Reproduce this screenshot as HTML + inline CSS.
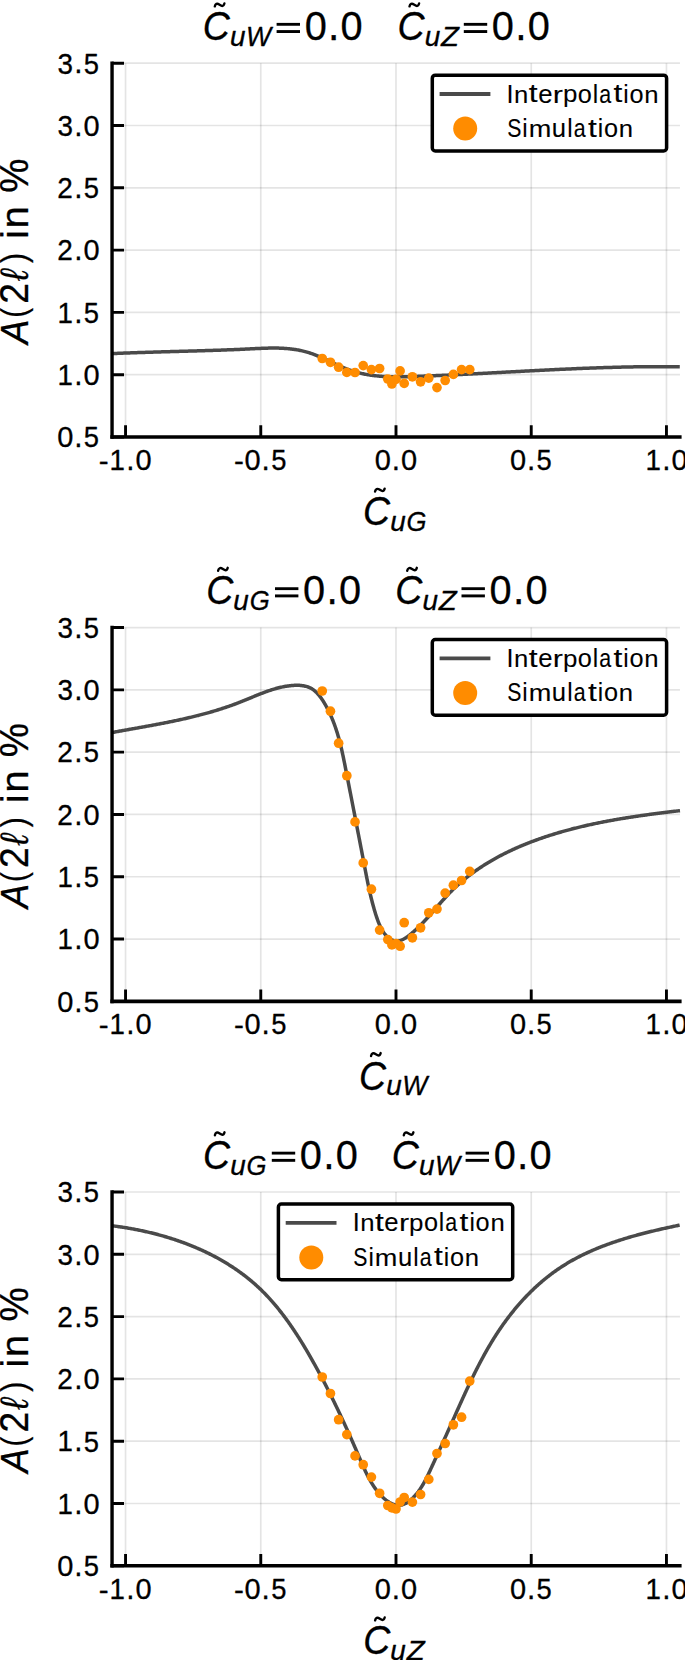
<!DOCTYPE html><html><head><meta charset="utf-8"><style>html,body{margin:0;padding:0;background:#fff;}svg{display:block;}text{font-family:"Liberation Sans", sans-serif;font-kerning:none;stroke:#000;stroke-width:0.3px;stroke-linejoin:round;}</style></head><body>
<svg width="685" height="1660" viewBox="0 0 685 1660">
<rect width="685" height="1660" fill="#fff"/>
<path d="M125.55,63.20V437.00M260.77,63.20V437.00M396.00,63.20V437.00M531.23,63.20V437.00M666.45,63.20V437.00" stroke="#000" stroke-opacity="0.105" stroke-width="1.7" fill="none"/>
<path d="M112.03,437.00H679.97M112.03,374.70H679.97M112.03,312.40H679.97M112.03,250.10H679.97M112.03,187.80H679.97M112.03,125.50H679.97M112.03,63.20H679.97" stroke="#000" stroke-opacity="0.105" stroke-width="1.7" fill="none"/>
<path d="M111.78,353.62 L112.79,353.57 L113.79,353.53 L114.79,353.48 L115.80,353.44 L116.80,353.40 L117.80,353.36 L118.81,353.31 L119.81,353.27 L120.81,353.23 L121.81,353.19 L122.81,353.15 L123.81,353.11 L124.81,353.08 L125.82,353.04 L126.82,353.00 L127.82,352.96 L128.82,352.92 L129.82,352.89 L130.82,352.85 L131.82,352.81 L132.81,352.78 L133.81,352.74 L134.81,352.71 L135.81,352.67 L136.81,352.64 L137.81,352.61 L138.81,352.57 L139.81,352.54 L140.80,352.51 L141.80,352.47 L142.80,352.44 L143.80,352.41 L144.79,352.38 L145.79,352.35 L146.79,352.31 L147.79,352.28 L148.78,352.25 L149.78,352.22 L150.78,352.19 L151.77,352.16 L152.77,352.13 L153.76,352.10 L154.76,352.07 L155.76,352.04 L156.75,352.01 L157.75,351.98 L158.74,351.96 L159.74,351.93 L160.74,351.90 L161.73,351.87 L162.73,351.84 L163.72,351.81 L164.72,351.78 L165.71,351.76 L166.71,351.73 L167.70,351.70 L168.70,351.67 L169.69,351.64 L170.69,351.62 L171.68,351.59 L172.68,351.56 L173.67,351.53 L174.67,351.51 L175.66,351.48 L176.66,351.45 L177.65,351.42 L178.65,351.40 L179.64,351.37 L180.64,351.34 L181.63,351.31 L182.63,351.29 L183.62,351.26 L184.62,351.23 L185.61,351.20 L186.61,351.18 L187.60,351.15 L188.60,351.12 L189.59,351.09 L190.59,351.06 L191.58,351.03 L192.58,351.01 L193.57,350.98 L194.57,350.95 L195.56,350.92 L196.56,350.89 L197.55,350.86 L198.55,350.83 L199.54,350.80 L200.54,350.77 L201.54,350.74 L202.53,350.71 L203.53,350.68 L204.52,350.65 L205.52,350.62 L206.52,350.59 L207.51,350.56 L208.51,350.53 L209.50,350.50 L210.50,350.46 L211.50,350.43 L212.49,350.40 L213.49,350.37 L214.49,350.33 L215.49,350.30 L216.48,350.27 L217.48,350.23 L218.48,350.20 L219.48,350.16 L220.47,350.13 L221.47,350.09 L222.47,350.06 L223.47,350.02 L224.47,349.98 L225.47,349.95 L226.46,349.91 L227.46,349.87 L228.46,349.83 L229.46,349.79 L230.46,349.75 L231.46,349.72 L232.46,349.68 L233.46,349.63 L234.46,349.59 L235.46,349.55 L236.46,349.51 L237.46,349.47 L238.47,349.43 L239.47,349.38 L240.47,349.34 L241.47,349.29 L242.47,349.25 L243.48,349.20 L244.48,349.16 L245.48,349.11 L246.48,349.06 L247.49,349.02 L248.49,348.97 L249.50,348.92 L250.50,348.87 L251.50,348.82 L252.51,348.77 L253.51,348.72 L254.52,348.67 L255.52,348.62 L256.53,348.57 L257.53,348.52 L258.54,348.48 L259.55,348.43 L260.55,348.39 L261.56,348.34 L262.56,348.30 L263.57,348.27 L264.57,348.23 L265.57,348.20 L266.58,348.17 L267.58,348.14 L268.58,348.12 L269.59,348.10 L270.59,348.08 L271.59,348.07 L272.59,348.06 L273.59,348.06 L274.59,348.06 L275.59,348.07 L276.59,348.08 L277.59,348.10 L278.59,348.12 L279.58,348.15 L280.58,348.18 L281.57,348.23 L282.57,348.27 L283.56,348.33 L284.55,348.39 L285.55,348.46 L286.54,348.53 L287.52,348.62 L288.51,348.71 L289.50,348.81 L290.48,348.91 L291.47,349.03 L292.45,349.15 L293.43,349.28 L294.41,349.42 L295.39,349.57 L296.37,349.73 L297.34,349.89 L298.32,350.07 L299.29,350.25 L300.26,350.45 L301.23,350.65 L302.19,350.87 L303.16,351.10 L304.12,351.33 L305.08,351.58 L306.04,351.83 L306.99,352.10 L307.95,352.38 L308.90,352.67 L309.85,352.97 L310.80,353.29 L311.74,353.61 L312.69,353.95 L313.63,354.29 L314.57,354.65 L315.51,355.01 L316.44,355.38 L317.38,355.76 L318.31,356.15 L319.24,356.54 L320.17,356.94 L321.10,357.35 L322.03,357.76 L322.96,358.18 L323.88,358.60 L324.81,359.03 L325.73,359.46 L326.66,359.89 L327.58,360.32 L328.50,360.76 L329.42,361.19 L330.35,361.63 L331.27,362.07 L332.19,362.51 L333.11,362.94 L334.03,363.38 L334.96,363.81 L335.88,364.25 L336.80,364.67 L337.72,365.10 L338.65,365.52 L339.57,365.94 L340.50,366.35 L341.42,366.76 L342.35,367.16 L343.28,367.56 L344.21,367.94 L345.14,368.32 L346.07,368.70 L347.00,369.06 L347.94,369.42 L348.87,369.76 L349.81,370.10 L350.75,370.42 L351.69,370.74 L352.63,371.05 L353.58,371.34 L354.52,371.63 L355.47,371.90 L356.42,372.17 L357.37,372.43 L358.32,372.68 L359.28,372.92 L360.23,373.15 L361.19,373.38 L362.15,373.59 L363.11,373.80 L364.07,373.99 L365.03,374.18 L365.99,374.37 L366.96,374.54 L367.92,374.71 L368.89,374.87 L369.86,375.02 L370.83,375.16 L371.80,375.30 L372.77,375.43 L373.75,375.55 L374.72,375.67 L375.70,375.78 L376.67,375.88 L377.65,375.98 L378.63,376.07 L379.61,376.16 L380.59,376.24 L381.57,376.31 L382.55,376.38 L383.53,376.45 L384.52,376.50 L385.50,376.56 L386.49,376.60 L387.47,376.65 L388.46,376.69 L389.45,376.72 L390.44,376.75 L391.43,376.77 L392.42,376.80 L393.41,376.81 L394.40,376.83 L395.39,376.84 L396.38,376.84 L397.38,376.84 L398.37,376.84 L399.36,376.84 L400.36,376.83 L401.35,376.82 L402.35,376.81 L403.34,376.79 L404.34,376.78 L405.33,376.76 L406.33,376.73 L407.33,376.71 L408.32,376.68 L409.32,376.66 L410.32,376.63 L411.32,376.60 L412.31,376.56 L413.31,376.53 L414.31,376.50 L415.31,376.46 L416.31,376.42 L417.31,376.39 L418.30,376.35 L419.30,376.31 L420.30,376.28 L421.30,376.24 L422.30,376.20 L423.30,376.16 L424.29,376.12 L425.29,376.08 L426.29,376.04 L427.29,376.00 L428.29,375.96 L429.29,375.92 L430.28,375.88 L431.28,375.84 L432.28,375.79 L433.28,375.75 L434.28,375.71 L435.27,375.67 L436.27,375.62 L437.27,375.58 L438.27,375.54 L439.27,375.49 L440.27,375.45 L441.26,375.40 L442.26,375.36 L443.26,375.31 L444.26,375.27 L445.26,375.22 L446.26,375.18 L447.25,375.13 L448.25,375.08 L449.25,375.04 L450.25,374.99 L451.25,374.94 L452.24,374.90 L453.24,374.85 L454.24,374.80 L455.24,374.75 L456.24,374.70 L457.24,374.66 L458.23,374.61 L459.23,374.56 L460.23,374.51 L461.23,374.46 L462.23,374.41 L463.23,374.36 L464.22,374.31 L465.22,374.26 L466.22,374.21 L467.22,374.16 L468.22,374.11 L469.21,374.06 L470.21,374.01 L471.21,373.96 L472.21,373.91 L473.21,373.86 L474.21,373.81 L475.20,373.75 L476.20,373.70 L477.20,373.65 L478.20,373.60 L479.20,373.55 L480.19,373.50 L481.19,373.44 L482.19,373.39 L483.19,373.34 L484.19,373.29 L485.18,373.23 L486.18,373.18 L487.18,373.13 L488.18,373.08 L489.18,373.02 L490.18,372.97 L491.17,372.92 L492.17,372.87 L493.17,372.81 L494.17,372.76 L495.17,372.71 L496.16,372.65 L497.16,372.60 L498.16,372.55 L499.16,372.49 L500.16,372.44 L501.15,372.39 L502.15,372.33 L503.15,372.28 L504.15,372.23 L505.15,372.17 L506.14,372.12 L507.14,372.07 L508.14,372.01 L509.14,371.96 L510.14,371.91 L511.14,371.86 L512.13,371.80 L513.13,371.75 L514.13,371.70 L515.13,371.64 L516.13,371.59 L517.12,371.54 L518.12,371.48 L519.12,371.43 L520.12,371.38 L521.12,371.33 L522.11,371.27 L523.11,371.22 L524.11,371.17 L525.11,371.12 L526.11,371.06 L527.10,371.01 L528.10,370.96 L529.10,370.91 L530.10,370.86 L531.10,370.80 L532.09,370.75 L533.09,370.70 L534.09,370.65 L535.09,370.60 L536.09,370.55 L537.08,370.50 L538.08,370.45 L539.08,370.39 L540.08,370.34 L541.08,370.29 L542.07,370.24 L543.07,370.19 L544.07,370.14 L545.07,370.09 L546.07,370.04 L547.07,370.00 L548.06,369.95 L549.06,369.90 L550.06,369.85 L551.06,369.80 L552.06,369.75 L553.05,369.70 L554.05,369.66 L555.05,369.61 L556.05,369.56 L557.05,369.51 L558.04,369.47 L559.04,369.42 L560.04,369.37 L561.04,369.33 L562.04,369.28 L563.03,369.23 L564.03,369.19 L565.03,369.14 L566.03,369.10 L567.03,369.05 L568.02,369.01 L569.02,368.96 L570.02,368.92 L571.02,368.88 L572.02,368.83 L573.01,368.79 L574.01,368.75 L575.01,368.70 L576.01,368.66 L577.01,368.62 L578.00,368.58 L579.00,368.54 L580.00,368.49 L581.00,368.45 L581.99,368.41 L582.99,368.37 L583.99,368.33 L584.99,368.29 L585.99,368.26 L586.98,368.22 L587.98,368.18 L588.98,368.14 L589.98,368.10 L590.98,368.07 L591.97,368.03 L592.97,367.99 L593.97,367.96 L594.97,367.92 L595.97,367.89 L596.96,367.85 L597.96,367.82 L598.96,367.78 L599.96,367.75 L600.96,367.71 L601.95,367.68 L602.95,367.65 L603.95,367.62 L604.95,367.59 L605.95,367.55 L606.94,367.52 L607.94,367.49 L608.94,367.46 L609.94,367.43 L610.94,367.41 L611.93,367.38 L612.93,367.35 L613.93,367.32 L614.93,367.29 L615.93,367.27 L616.92,367.24 L617.92,367.22 L618.92,367.19 L619.92,367.17 L620.92,367.14 L621.91,367.12 L622.91,367.10 L623.91,367.07 L624.91,367.05 L625.91,367.03 L626.90,367.01 L627.90,366.99 L628.90,366.97 L629.90,366.95 L630.89,366.93 L631.89,366.91 L632.89,366.89 L633.89,366.87 L634.89,366.86 L635.88,366.84 L636.88,366.83 L637.88,366.81 L638.88,366.80 L639.88,366.78 L640.87,366.77 L641.87,366.76 L642.87,366.74 L643.87,366.73 L644.87,366.72 L645.86,366.71 L646.86,366.70 L647.86,366.69 L648.86,366.68 L649.86,366.68 L650.85,366.67 L651.85,366.66 L652.85,366.66 L653.85,366.65 L654.85,366.65 L655.84,366.64 L656.84,366.64 L657.84,366.64 L658.84,366.63 L659.84,366.63 L660.83,366.63 L661.83,366.63 L662.83,366.63 L663.83,366.63 L664.82,366.63 L665.82,366.64 L666.82,366.64 L667.82,366.64 L668.82,366.65 L669.81,366.65 L670.81,366.66 L671.81,366.67 L672.81,366.68 L673.81,366.68 L674.80,366.69 L675.80,366.70 L676.80,366.71 L677.80,366.72 L678.80,366.74 L679.79,366.75" stroke="#4a4a4a" stroke-width="3.5" fill="none" stroke-linejoin="round"/>
<path d="M112.05,61.40V438.80" stroke="#000" stroke-width="3.4" fill="none"/>
<path d="M110.35,437.00H681.6" stroke="#000" stroke-width="3.6" fill="none"/>
<path d="M112,437.00H124M112,374.70H124M112,312.40H124M112,250.10H124M112,187.80H124M112,125.50H124M112,63.20H124M125.55,437.00V425.20M260.77,437.00V425.20M396.00,437.00V425.20M531.23,437.00V425.20M666.45,437.00V425.20" stroke="#000" stroke-width="2.9" fill="none"/>
<text transform="translate(57.25,447.30) scale(0.9868,1)" font-size="29.38">0</text><text transform="translate(74.29,447.20) scale(0.9329,1)" font-size="31.89">.</text><text transform="translate(83.83,447.30) scale(0.9341,1)" font-size="29.29">5</text>
<text transform="translate(57.48,384.90) scale(0.9502,1)" font-size="29.14">1</text><text transform="translate(74.29,384.90) scale(0.9329,1)" font-size="31.89">.</text><text transform="translate(83.48,385.00) scale(0.9868,1)" font-size="29.38">0</text>
<text transform="translate(57.48,322.60) scale(0.9502,1)" font-size="29.14">1</text><text transform="translate(74.29,322.60) scale(0.9329,1)" font-size="31.89">.</text><text transform="translate(83.83,322.70) scale(0.9341,1)" font-size="29.29">5</text>
<text transform="translate(57.17,260.30) scale(0.9559,1)" font-size="29.23">2</text><text transform="translate(74.29,260.30) scale(0.9329,1)" font-size="31.89">.</text><text transform="translate(83.48,260.40) scale(0.9868,1)" font-size="29.38">0</text>
<text transform="translate(57.17,198.00) scale(0.9559,1)" font-size="29.23">2</text><text transform="translate(74.29,198.00) scale(0.9329,1)" font-size="31.89">.</text><text transform="translate(83.83,198.10) scale(0.9341,1)" font-size="29.29">5</text>
<text transform="translate(57.60,135.80) scale(0.9477,1)" font-size="29.38">3</text><text transform="translate(74.29,135.70) scale(0.9329,1)" font-size="31.89">.</text><text transform="translate(83.48,135.80) scale(0.9868,1)" font-size="29.38">0</text>
<text transform="translate(57.60,73.50) scale(0.9477,1)" font-size="29.38">3</text><text transform="translate(74.29,73.40) scale(0.9329,1)" font-size="31.89">.</text><text transform="translate(83.83,73.50) scale(0.9341,1)" font-size="29.29">5</text>
<text transform="translate(98.75,469.75) scale(1.0517,1)" font-size="28.19">-</text><text transform="translate(109.56,469.80) scale(0.9502,1)" font-size="29.14">1</text><text transform="translate(126.36,469.80) scale(0.9329,1)" font-size="31.89">.</text><text transform="translate(135.56,469.90) scale(0.9868,1)" font-size="29.38">0</text>
<text transform="translate(233.97,469.75) scale(1.0517,1)" font-size="28.19">-</text><text transform="translate(244.55,469.90) scale(0.9868,1)" font-size="29.38">0</text><text transform="translate(261.59,469.80) scale(0.9329,1)" font-size="31.89">.</text><text transform="translate(271.13,469.90) scale(0.9341,1)" font-size="29.29">5</text>
<text transform="translate(374.81,469.90) scale(0.9868,1)" font-size="29.38">0</text><text transform="translate(391.85,469.80) scale(0.9329,1)" font-size="31.89">.</text><text transform="translate(401.05,469.90) scale(0.9868,1)" font-size="29.38">0</text>
<text transform="translate(510.04,469.90) scale(0.9868,1)" font-size="29.38">0</text><text transform="translate(527.08,469.80) scale(0.9329,1)" font-size="31.89">.</text><text transform="translate(536.62,469.90) scale(0.9341,1)" font-size="29.29">5</text>
<text transform="translate(645.50,469.80) scale(0.9502,1)" font-size="29.14">1</text><text transform="translate(662.30,469.80) scale(0.9329,1)" font-size="31.89">.</text><text transform="translate(671.50,469.90) scale(0.9868,1)" font-size="29.38">0</text>
<circle cx="322.24" cy="358.50" r="4.85" fill="#ff8c00"/>
<circle cx="330.44" cy="362.30" r="4.85" fill="#ff8c00"/>
<circle cx="338.63" cy="367.20" r="4.85" fill="#ff8c00"/>
<circle cx="346.83" cy="372.40" r="4.85" fill="#ff8c00"/>
<circle cx="355.02" cy="372.50" r="4.85" fill="#ff8c00"/>
<circle cx="363.22" cy="365.60" r="4.85" fill="#ff8c00"/>
<circle cx="371.41" cy="369.60" r="4.85" fill="#ff8c00"/>
<circle cx="379.61" cy="368.50" r="4.85" fill="#ff8c00"/>
<circle cx="387.80" cy="379.00" r="4.85" fill="#ff8c00"/>
<circle cx="391.90" cy="384.00" r="4.85" fill="#ff8c00"/>
<circle cx="396.00" cy="379.30" r="4.85" fill="#ff8c00"/>
<circle cx="400.10" cy="370.90" r="4.85" fill="#ff8c00"/>
<circle cx="404.20" cy="383.40" r="4.85" fill="#ff8c00"/>
<circle cx="412.39" cy="376.80" r="4.85" fill="#ff8c00"/>
<circle cx="420.59" cy="381.80" r="4.85" fill="#ff8c00"/>
<circle cx="428.78" cy="378.10" r="4.85" fill="#ff8c00"/>
<circle cx="436.98" cy="387.60" r="4.85" fill="#ff8c00"/>
<circle cx="445.17" cy="380.50" r="4.85" fill="#ff8c00"/>
<circle cx="453.37" cy="374.40" r="4.85" fill="#ff8c00"/>
<circle cx="461.56" cy="369.60" r="4.85" fill="#ff8c00"/>
<circle cx="469.76" cy="369.60" r="4.85" fill="#ff8c00"/>
<rect x="432.30" y="75.20" width="234.3" height="75.7" rx="3" ry="3" fill="#fff" stroke="#000" stroke-width="3.5"/>
<path d="M439.60,94.00H490.40" stroke="#4a4a4a" stroke-width="3.8"/>
<circle cx="465.20" cy="128.60" r="12" fill="#ff8c00"/>
<text transform="translate(506.61,102.50) scale(0.9981,1)" font-size="25.22" style="stroke-width:0.1px">I</text><text transform="translate(514.08,102.50) scale(1.0359,1)" font-size="24.77" style="stroke-width:0.1px">n</text><text transform="translate(528.86,102.30) scale(1.2454,1)" font-size="25.54" style="stroke-width:0.1px">t</text><text transform="translate(538.26,102.59) scale(1.0305,1)" font-size="24.95" style="stroke-width:0.1px">e</text><text transform="translate(552.81,102.50) scale(1.2310,1)" font-size="24.77" style="stroke-width:0.1px">r</text><text transform="translate(562.96,102.36) scale(1.0554,1)" font-size="24.53" style="stroke-width:0.1px">p</text><text transform="translate(577.82,102.59) scale(1.0143,1)" font-size="24.95" style="stroke-width:0.1px">o</text><text transform="translate(592.73,102.50) scale(0.9749,1)" font-size="24.95" style="stroke-width:0.1px">l</text><text transform="translate(599.26,102.59) scale(0.8579,1)" font-size="24.95" style="stroke-width:0.1px">a</text><text transform="translate(613.49,102.30) scale(1.2454,1)" font-size="25.54" style="stroke-width:0.1px">t</text><text transform="translate(623.28,102.50) scale(0.9749,1)" font-size="24.95" style="stroke-width:0.1px">i</text><text transform="translate(629.52,102.59) scale(1.0143,1)" font-size="24.95" style="stroke-width:0.1px">o</text><text transform="translate(644.29,102.50) scale(1.0359,1)" font-size="24.77" style="stroke-width:0.1px">n</text>
<text transform="translate(507.21,136.79) scale(0.8345,1)" font-size="25.42" style="stroke-width:0.1px">S</text><text transform="translate(522.32,136.70) scale(0.9749,1)" font-size="24.95" style="stroke-width:0.1px">i</text><text transform="translate(528.68,136.70) scale(1.0947,1)" font-size="24.77" style="stroke-width:0.1px">m</text><text transform="translate(551.86,136.79) scale(1.0103,1)" font-size="25.40" style="stroke-width:0.1px">u</text><text transform="translate(567.19,136.70) scale(0.9749,1)" font-size="24.95" style="stroke-width:0.1px">l</text><text transform="translate(573.72,136.79) scale(0.8579,1)" font-size="24.95" style="stroke-width:0.1px">a</text><text transform="translate(587.94,136.50) scale(1.2454,1)" font-size="25.54" style="stroke-width:0.1px">t</text><text transform="translate(597.73,136.70) scale(0.9749,1)" font-size="24.95" style="stroke-width:0.1px">i</text><text transform="translate(603.98,136.79) scale(1.0143,1)" font-size="24.95" style="stroke-width:0.1px">o</text><text transform="translate(618.75,136.70) scale(1.0359,1)" font-size="24.77" style="stroke-width:0.1px">n</text>
<text transform="translate(202.83,40.10) scale(0.9214,1)" font-size="40.68" font-style="italic">C</text><path d="M214.80,6.40 C215.30,3.80 217.10,3.00 219.20,4.40 S223.20,7.40 224.40,3.50" fill="none" stroke="#000" stroke-width="2.4" stroke-linecap="round"/><text transform="translate(230.03,45.85) scale(1.0354,1)" font-size="26.97" font-style="italic">u</text><text transform="translate(246.00,45.70) scale(0.9683,1)" font-size="27.47" font-style="italic">W</text>
<rect x="276.60" y="22.90" width="23.4" height="2.85"/><rect x="276.60" y="30.10" width="23.4" height="2.9"/>
<text transform="translate(304.64,40.14) scale(0.9868,1)" font-size="40.27">0</text><text transform="translate(328.00,40.00) scale(0.9329,1)" font-size="43.73">.</text><text transform="translate(340.61,40.14) scale(0.9868,1)" font-size="40.27">0</text>
<text transform="translate(397.53,40.10) scale(0.9214,1)" font-size="40.68" font-style="italic">C</text><path d="M409.50,6.40 C410.00,3.80 411.80,3.00 413.90,4.40 S417.90,7.40 419.10,3.50" fill="none" stroke="#000" stroke-width="2.4" stroke-linecap="round"/><text transform="translate(424.73,45.85) scale(1.0354,1)" font-size="26.97" font-style="italic">u</text><text transform="translate(441.07,45.70) scale(1.0674,1)" font-size="27.47" font-style="italic">Z</text>
<rect x="463.80" y="22.90" width="23.4" height="2.85"/><rect x="463.80" y="30.10" width="23.4" height="2.9"/>
<text transform="translate(491.84,40.14) scale(0.9868,1)" font-size="40.27">0</text><text transform="translate(515.20,40.00) scale(0.9329,1)" font-size="43.73">.</text><text transform="translate(527.81,40.14) scale(0.9868,1)" font-size="40.27">0</text>
<text transform="translate(363.08,525.30) scale(0.9214,1)" font-size="40.68" font-style="italic">C</text><path d="M375.05,491.60 C375.55,489.00 377.35,488.20 379.45,489.60 S383.45,492.60 384.65,488.70" fill="none" stroke="#000" stroke-width="2.4" stroke-linecap="round"/><text transform="translate(390.28,531.05) scale(1.0354,1)" font-size="26.97" font-style="italic">u</text><text transform="translate(406.58,531.03) scale(0.9227,1)" font-size="27.82" font-style="italic">G</text>
<g transform="translate(28.1,345.80) rotate(-90) translate(0,0)"><text transform="translate(1.80,0.00) scale(0.9289,1)" font-size="39.32" font-style="italic">A</text><text transform="translate(28.15,-2.52) scale(0.8311,1)" font-size="35.85">(</text><text transform="translate(42.12,0.00) scale(0.9373,1)" font-size="39.81">2</text><text transform="translate(65.02,0.11) scale(0.8856,1)" font-size="39.57" font-style="italic">ℓ</text><text transform="translate(82.82,-2.52) scale(0.8416,1)" font-size="35.85">)</text><text transform="translate(107.17,0.00) scale(0.9749,1)" font-size="39.32">i</text><text transform="translate(117.34,0.00) scale(1.0359,1)" font-size="39.03">n</text><text transform="translate(153.00,0.29) scale(0.9500,1)" font-size="40.54">%</text></g>
<path d="M125.55,627.55V1001.35M260.77,627.55V1001.35M396.00,627.55V1001.35M531.23,627.55V1001.35M666.45,627.55V1001.35" stroke="#000" stroke-opacity="0.105" stroke-width="1.7" fill="none"/>
<path d="M112.03,1001.35H679.97M112.03,939.05H679.97M112.03,876.75H679.97M112.03,814.45H679.97M112.03,752.15H679.97M112.03,689.85H679.97M112.03,627.55H679.97" stroke="#000" stroke-opacity="0.105" stroke-width="1.7" fill="none"/>
<path d="M112.02,732.53 L113.00,732.35 L113.98,732.17 L114.97,731.99 L115.95,731.81 L116.94,731.63 L117.92,731.45 L118.91,731.27 L119.89,731.09 L120.88,730.92 L121.86,730.74 L122.85,730.56 L123.83,730.38 L124.82,730.21 L125.80,730.03 L126.79,729.86 L127.77,729.68 L128.76,729.50 L129.74,729.33 L130.73,729.15 L131.71,728.98 L132.70,728.80 L133.68,728.62 L134.66,728.45 L135.65,728.27 L136.63,728.10 L137.62,727.92 L138.60,727.75 L139.59,727.57 L140.57,727.39 L141.56,727.22 L142.54,727.04 L143.52,726.86 L144.51,726.68 L145.49,726.50 L146.47,726.33 L147.46,726.15 L148.44,725.97 L149.42,725.79 L150.41,725.60 L151.39,725.42 L152.37,725.24 L153.35,725.06 L154.34,724.88 L155.32,724.69 L156.30,724.51 L157.28,724.32 L158.26,724.14 L159.25,723.95 L160.23,723.76 L161.21,723.57 L162.19,723.38 L163.17,723.19 L164.15,723.00 L165.13,722.81 L166.11,722.61 L167.09,722.42 L168.06,722.22 L169.04,722.02 L170.02,721.83 L171.00,721.63 L171.98,721.43 L172.95,721.22 L173.93,721.02 L174.91,720.82 L175.88,720.61 L176.86,720.40 L177.84,720.19 L178.81,719.98 L179.79,719.77 L180.76,719.56 L181.74,719.34 L182.71,719.13 L183.68,718.91 L184.66,718.69 L185.63,718.47 L186.60,718.25 L187.57,718.02 L188.54,717.80 L189.51,717.57 L190.49,717.34 L191.46,717.11 L192.42,716.87 L193.39,716.64 L194.36,716.40 L195.33,716.16 L196.30,715.92 L197.27,715.67 L198.23,715.43 L199.20,715.18 L200.16,714.93 L201.13,714.68 L202.09,714.42 L203.06,714.17 L204.02,713.91 L204.99,713.65 L205.95,713.38 L206.91,713.12 L207.87,712.85 L208.83,712.58 L209.79,712.31 L210.75,712.03 L211.71,711.75 L212.67,711.47 L213.63,711.19 L214.58,710.91 L215.54,710.62 L216.50,710.33 L217.45,710.03 L218.41,709.74 L219.36,709.44 L220.32,709.14 L221.27,708.83 L222.22,708.52 L223.17,708.21 L224.12,707.90 L225.07,707.59 L226.02,707.27 L226.97,706.94 L227.92,706.62 L228.87,706.29 L229.81,705.96 L230.76,705.63 L231.70,705.29 L232.65,704.95 L233.59,704.60 L234.54,704.26 L235.48,703.91 L236.42,703.55 L237.36,703.20 L238.30,702.84 L239.24,702.47 L240.18,702.10 L241.12,701.73 L242.05,701.36 L242.99,700.98 L243.92,700.61 L244.86,700.22 L245.79,699.84 L246.73,699.46 L247.66,699.07 L248.60,698.69 L249.53,698.30 L250.46,697.91 L251.40,697.53 L252.33,697.14 L253.26,696.75 L254.20,696.37 L255.13,695.99 L256.06,695.60 L257.00,695.22 L257.93,694.85 L258.87,694.47 L259.81,694.10 L260.74,693.73 L261.68,693.37 L262.62,693.01 L263.56,692.65 L264.50,692.30 L265.44,691.95 L266.38,691.61 L267.32,691.27 L268.27,690.94 L269.21,690.62 L270.16,690.30 L271.11,689.99 L272.06,689.68 L273.01,689.39 L273.96,689.10 L274.92,688.82 L275.87,688.54 L276.83,688.28 L277.79,688.02 L278.75,687.78 L279.72,687.54 L280.68,687.32 L281.65,687.10 L282.62,686.89 L283.59,686.70 L284.57,686.52 L285.55,686.34 L286.53,686.18 L287.51,686.04 L288.49,685.90 L289.48,685.78 L290.47,685.67 L291.46,685.57 L292.46,685.49 L293.46,685.42 L294.46,685.37 L295.46,685.33 L296.47,685.31 L297.47,685.31 L298.47,685.33 L299.46,685.37 L300.45,685.44 L301.43,685.53 L302.41,685.65 L303.38,685.79 L304.34,685.97 L305.28,686.17 L306.21,686.41 L307.13,686.68 L308.04,686.98 L308.93,687.33 L309.80,687.71 L310.65,688.13 L311.48,688.59 L312.29,689.08 L313.08,689.62 L313.86,690.19 L314.61,690.79 L315.35,691.43 L316.07,692.09 L316.78,692.78 L317.47,693.50 L318.14,694.25 L318.80,695.01 L319.44,695.80 L320.07,696.61 L320.69,697.43 L321.29,698.28 L321.88,699.13 L322.45,700.00 L323.02,700.88 L323.57,701.76 L324.11,702.66 L324.64,703.56 L325.16,704.46 L325.68,705.37 L326.18,706.27 L326.67,707.18 L327.15,708.09 L327.63,709.00 L328.09,709.91 L328.55,710.83 L329.00,711.74 L329.44,712.66 L329.87,713.57 L330.30,714.49 L330.71,715.41 L331.12,716.33 L331.52,717.25 L331.91,718.17 L332.30,719.10 L332.68,720.02 L333.05,720.95 L333.41,721.87 L333.77,722.80 L334.12,723.73 L334.46,724.66 L334.80,725.59 L335.13,726.52 L335.46,727.46 L335.78,728.39 L336.09,729.33 L336.40,730.27 L336.70,731.20 L337.00,732.14 L337.29,733.08 L337.57,734.02 L337.85,734.97 L338.13,735.91 L338.40,736.85 L338.67,737.80 L338.93,738.75 L339.19,739.69 L339.44,740.64 L339.69,741.59 L339.94,742.54 L340.18,743.49 L340.42,744.45 L340.65,745.40 L340.88,746.36 L341.11,747.31 L341.34,748.27 L341.56,749.23 L341.78,750.19 L341.99,751.15 L342.21,752.11 L342.42,753.07 L342.63,754.03 L342.83,755.00 L343.04,755.96 L343.24,756.93 L343.45,757.90 L343.65,758.86 L343.84,759.83 L344.04,760.80 L344.24,761.77 L344.43,762.75 L344.63,763.72 L344.82,764.69 L345.02,765.67 L345.21,766.64 L345.40,767.62 L345.59,768.60 L345.79,769.58 L345.98,770.55 L346.17,771.54 L346.36,772.52 L346.56,773.50 L346.75,774.48 L346.94,775.47 L347.14,776.45 L347.33,777.44 L347.52,778.42 L347.72,779.41 L347.91,780.40 L348.10,781.38 L348.30,782.37 L348.49,783.36 L348.68,784.35 L348.88,785.34 L349.07,786.33 L349.27,787.32 L349.46,788.32 L349.65,789.31 L349.85,790.30 L350.04,791.30 L350.24,792.29 L350.43,793.28 L350.63,794.28 L350.82,795.27 L351.01,796.27 L351.21,797.26 L351.40,798.26 L351.60,799.25 L351.79,800.25 L351.99,801.24 L352.18,802.24 L352.37,803.24 L352.57,804.23 L352.76,805.23 L352.96,806.23 L353.15,807.22 L353.34,808.22 L353.54,809.22 L353.73,810.21 L353.93,811.21 L354.12,812.20 L354.31,813.20 L354.51,814.20 L354.70,815.19 L354.89,816.19 L355.09,817.18 L355.28,818.18 L355.47,819.17 L355.67,820.16 L355.86,821.16 L356.05,822.15 L356.24,823.14 L356.44,824.14 L356.63,825.13 L356.82,826.12 L357.01,827.11 L357.21,828.10 L357.40,829.09 L357.59,830.08 L357.78,831.07 L357.97,832.06 L358.16,833.05 L358.35,834.03 L358.54,835.02 L358.73,836.01 L358.92,836.99 L359.12,837.98 L359.30,838.96 L359.49,839.94 L359.68,840.92 L359.87,841.90 L360.06,842.88 L360.25,843.86 L360.44,844.84 L360.63,845.82 L360.82,846.79 L361.00,847.77 L361.19,848.74 L361.38,849.71 L361.57,850.69 L361.75,851.66 L361.94,852.63 L362.13,853.59 L362.31,854.56 L362.50,855.53 L362.68,856.49 L362.87,857.45 L363.05,858.42 L363.24,859.38 L363.42,860.34 L363.60,861.29 L363.79,862.25 L363.97,863.21 L364.15,864.16 L364.34,865.11 L364.52,866.06 L364.70,867.01 L364.88,867.96 L365.06,868.91 L365.24,869.85 L365.42,870.79 L365.60,871.74 L365.78,872.68 L365.97,873.62 L366.15,874.56 L366.33,875.50 L366.51,876.44 L366.70,877.38 L366.88,878.32 L367.07,879.26 L367.26,880.20 L367.45,881.14 L367.64,882.09 L367.83,883.03 L368.03,883.98 L368.23,884.93 L368.43,885.88 L368.63,886.83 L368.84,887.78 L369.04,888.74 L369.25,889.69 L369.47,890.65 L369.69,891.62 L369.91,892.58 L370.13,893.55 L370.36,894.53 L370.59,895.50 L370.82,896.49 L371.06,897.47 L371.31,898.46 L371.56,899.45 L371.81,900.45 L372.07,901.45 L372.33,902.46 L372.60,903.47 L372.87,904.49 L373.15,905.51 L373.43,906.54 L373.72,907.58 L374.01,908.62 L374.31,909.66 L374.62,910.72 L374.93,911.77 L375.25,912.84 L375.58,913.90 L375.92,914.96 L376.26,916.03 L376.61,917.09 L376.97,918.14 L377.34,919.19 L377.72,920.24 L378.10,921.27 L378.50,922.30 L378.91,923.31 L379.33,924.31 L379.76,925.30 L380.20,926.27 L380.66,927.22 L381.12,928.16 L381.60,929.07 L382.09,929.96 L382.60,930.82 L383.12,931.67 L383.65,932.48 L384.20,933.27 L384.77,934.02 L385.35,934.75 L385.94,935.44 L386.55,936.10 L387.18,936.72 L387.83,937.30 L388.49,937.85 L389.17,938.36 L389.87,938.82 L390.58,939.24 L391.32,939.61 L392.07,939.94 L392.84,940.22 L393.64,940.46 L394.45,940.64 L395.27,940.76 L396.10,940.84 L396.94,940.86 L397.79,940.82 L398.65,940.73 L399.50,940.58 L400.36,940.36 L401.21,940.09 L402.06,939.77 L402.91,939.40 L403.76,938.98 L404.60,938.52 L405.44,938.02 L406.27,937.49 L407.10,936.92 L407.93,936.33 L408.75,935.72 L409.56,935.09 L410.37,934.44 L411.17,933.79 L411.96,933.12 L412.75,932.45 L413.53,931.78 L414.30,931.09 L415.07,930.40 L415.83,929.71 L416.58,929.01 L417.33,928.31 L418.07,927.60 L418.81,926.88 L419.54,926.17 L420.26,925.44 L420.98,924.72 L421.70,923.99 L422.41,923.25 L423.12,922.51 L423.82,921.77 L424.52,921.03 L425.21,920.28 L425.91,919.53 L426.60,918.78 L427.28,918.02 L427.96,917.26 L428.64,916.51 L429.32,915.74 L429.99,914.98 L430.67,914.22 L431.34,913.45 L432.01,912.69 L432.67,911.92 L433.34,911.15 L434.01,910.38 L434.67,909.62 L435.33,908.85 L436.00,908.08 L436.66,907.31 L437.32,906.55 L437.98,905.78 L438.64,905.02 L439.31,904.25 L439.97,903.49 L440.64,902.73 L441.30,901.97 L441.97,901.22 L442.64,900.46 L443.31,899.71 L443.98,898.96 L444.65,898.22 L445.33,897.47 L446.01,896.73 L446.69,895.99 L447.37,895.26 L448.06,894.53 L448.75,893.81 L449.45,893.09 L450.14,892.37 L450.84,891.66 L451.55,890.95 L452.26,890.25 L452.97,889.55 L453.69,888.85 L454.41,888.16 L455.13,887.48 L455.86,886.80 L456.59,886.12 L457.32,885.45 L458.06,884.78 L458.80,884.12 L459.55,883.46 L460.30,882.80 L461.05,882.15 L461.80,881.51 L462.56,880.86 L463.32,880.23 L464.09,879.59 L464.85,878.96 L465.63,878.34 L466.40,877.72 L467.18,877.10 L467.96,876.49 L468.74,875.88 L469.53,875.27 L470.32,874.67 L471.11,874.08 L471.91,873.48 L472.71,872.89 L473.51,872.31 L474.32,871.73 L475.12,871.15 L475.93,870.58 L476.75,870.01 L477.56,869.45 L478.38,868.89 L479.21,868.33 L480.03,867.78 L480.86,867.23 L481.69,866.68 L482.52,866.14 L483.36,865.60 L484.20,865.07 L485.04,864.54 L485.88,864.01 L486.73,863.49 L487.57,862.97 L488.42,862.45 L489.28,861.94 L490.13,861.44 L490.99,860.93 L491.85,860.43 L492.71,859.93 L493.58,859.44 L494.45,858.95 L495.32,858.46 L496.19,857.98 L497.06,857.50 L497.94,857.03 L498.82,856.55 L499.70,856.08 L500.58,855.62 L501.47,855.16 L502.35,854.70 L503.24,854.24 L504.13,853.79 L505.02,853.34 L505.92,852.90 L506.81,852.46 L507.71,852.02 L508.61,851.58 L509.52,851.15 L510.42,850.72 L511.33,850.30 L512.23,849.88 L513.14,849.46 L514.05,849.04 L514.96,848.63 L515.88,848.22 L516.79,847.82 L517.71,847.41 L518.63,847.01 L519.55,846.62 L520.47,846.22 L521.40,845.83 L522.32,845.44 L523.25,845.06 L524.17,844.68 L525.10,844.30 L526.03,843.92 L526.97,843.55 L527.90,843.18 L528.83,842.82 L529.77,842.45 L530.70,842.09 L531.64,841.73 L532.58,841.38 L533.52,841.03 L534.46,840.68 L535.40,840.33 L536.35,839.99 L537.29,839.64 L538.24,839.31 L539.18,838.97 L540.13,838.64 L541.08,838.31 L542.03,837.98 L542.97,837.65 L543.93,837.33 L544.88,837.01 L545.83,836.70 L546.78,836.38 L547.73,836.07 L548.69,835.76 L549.64,835.45 L550.60,835.15 L551.55,834.85 L552.51,834.55 L553.47,834.25 L554.43,833.96 L555.38,833.67 L556.34,833.38 L557.30,833.09 L558.26,832.80 L559.22,832.52 L560.18,832.24 L561.14,831.97 L562.11,831.69 L563.07,831.42 L564.03,831.15 L564.99,830.88 L565.96,830.61 L566.92,830.35 L567.88,830.09 L568.85,829.83 L569.81,829.57 L570.78,829.32 L571.75,829.06 L572.71,828.81 L573.68,828.56 L574.65,828.32 L575.62,828.07 L576.58,827.83 L577.55,827.59 L578.52,827.35 L579.49,827.12 L580.46,826.88 L581.43,826.65 L582.40,826.42 L583.37,826.19 L584.35,825.96 L585.32,825.74 L586.29,825.52 L587.26,825.30 L588.24,825.08 L589.21,824.86 L590.18,824.65 L591.16,824.43 L592.13,824.22 L593.11,824.01 L594.08,823.80 L595.06,823.60 L596.04,823.39 L597.01,823.19 L597.99,822.99 L598.97,822.79 L599.95,822.59 L600.92,822.40 L601.90,822.20 L602.88,822.01 L603.86,821.82 L604.84,821.63 L605.82,821.44 L606.80,821.26 L607.78,821.07 L608.76,820.89 L609.74,820.71 L610.72,820.53 L611.70,820.35 L612.69,820.17 L613.67,820.00 L614.65,819.82 L615.63,819.65 L616.62,819.48 L617.60,819.31 L618.58,819.14 L619.57,818.97 L620.55,818.81 L621.54,818.64 L622.52,818.48 L623.51,818.32 L624.49,818.16 L625.48,818.00 L626.46,817.84 L627.45,817.68 L628.44,817.52 L629.42,817.37 L630.41,817.22 L631.40,817.06 L632.39,816.91 L633.37,816.76 L634.36,816.61 L635.35,816.46 L636.34,816.32 L637.33,816.17 L638.32,816.03 L639.30,815.88 L640.29,815.74 L641.28,815.60 L642.27,815.46 L643.26,815.32 L644.25,815.18 L645.24,815.04 L646.23,814.90 L647.22,814.76 L648.22,814.63 L649.21,814.49 L650.20,814.36 L651.19,814.23 L652.18,814.09 L653.17,813.96 L654.17,813.83 L655.16,813.70 L656.15,813.57 L657.14,813.44 L658.13,813.32 L659.13,813.19 L660.12,813.06 L661.11,812.94 L662.11,812.81 L663.10,812.69 L664.09,812.56 L665.09,812.44 L666.08,812.32 L667.08,812.19 L668.07,812.07 L669.06,811.95 L670.06,811.83 L671.05,811.71 L672.05,811.59 L673.04,811.47 L674.04,811.35 L675.03,811.23 L676.03,811.12 L677.02,811.00 L678.02,810.88 L679.01,810.76 L680.01,810.65" stroke="#4a4a4a" stroke-width="3.5" fill="none" stroke-linejoin="round"/>
<path d="M112.05,625.75V1003.15" stroke="#000" stroke-width="3.4" fill="none"/>
<path d="M110.35,1001.35H681.6" stroke="#000" stroke-width="3.6" fill="none"/>
<path d="M112,1001.35H124M112,939.05H124M112,876.75H124M112,814.45H124M112,752.15H124M112,689.85H124M112,627.55H124M125.55,1001.35V989.55M260.77,1001.35V989.55M396.00,1001.35V989.55M531.23,1001.35V989.55M666.45,1001.35V989.55" stroke="#000" stroke-width="2.9" fill="none"/>
<text transform="translate(57.25,1011.65) scale(0.9868,1)" font-size="29.38">0</text><text transform="translate(74.29,1011.55) scale(0.9329,1)" font-size="31.89">.</text><text transform="translate(83.83,1011.65) scale(0.9341,1)" font-size="29.29">5</text>
<text transform="translate(57.48,949.25) scale(0.9502,1)" font-size="29.14">1</text><text transform="translate(74.29,949.25) scale(0.9329,1)" font-size="31.89">.</text><text transform="translate(83.48,949.35) scale(0.9868,1)" font-size="29.38">0</text>
<text transform="translate(57.48,886.95) scale(0.9502,1)" font-size="29.14">1</text><text transform="translate(74.29,886.95) scale(0.9329,1)" font-size="31.89">.</text><text transform="translate(83.83,887.05) scale(0.9341,1)" font-size="29.29">5</text>
<text transform="translate(57.17,824.65) scale(0.9559,1)" font-size="29.23">2</text><text transform="translate(74.29,824.65) scale(0.9329,1)" font-size="31.89">.</text><text transform="translate(83.48,824.75) scale(0.9868,1)" font-size="29.38">0</text>
<text transform="translate(57.17,762.35) scale(0.9559,1)" font-size="29.23">2</text><text transform="translate(74.29,762.35) scale(0.9329,1)" font-size="31.89">.</text><text transform="translate(83.83,762.45) scale(0.9341,1)" font-size="29.29">5</text>
<text transform="translate(57.60,700.15) scale(0.9477,1)" font-size="29.38">3</text><text transform="translate(74.29,700.05) scale(0.9329,1)" font-size="31.89">.</text><text transform="translate(83.48,700.15) scale(0.9868,1)" font-size="29.38">0</text>
<text transform="translate(57.60,637.85) scale(0.9477,1)" font-size="29.38">3</text><text transform="translate(74.29,637.75) scale(0.9329,1)" font-size="31.89">.</text><text transform="translate(83.83,637.85) scale(0.9341,1)" font-size="29.29">5</text>
<text transform="translate(98.75,1034.10) scale(1.0517,1)" font-size="28.19">-</text><text transform="translate(109.56,1034.15) scale(0.9502,1)" font-size="29.14">1</text><text transform="translate(126.36,1034.15) scale(0.9329,1)" font-size="31.89">.</text><text transform="translate(135.56,1034.25) scale(0.9868,1)" font-size="29.38">0</text>
<text transform="translate(233.97,1034.10) scale(1.0517,1)" font-size="28.19">-</text><text transform="translate(244.55,1034.25) scale(0.9868,1)" font-size="29.38">0</text><text transform="translate(261.59,1034.15) scale(0.9329,1)" font-size="31.89">.</text><text transform="translate(271.13,1034.25) scale(0.9341,1)" font-size="29.29">5</text>
<text transform="translate(374.81,1034.25) scale(0.9868,1)" font-size="29.38">0</text><text transform="translate(391.85,1034.15) scale(0.9329,1)" font-size="31.89">.</text><text transform="translate(401.05,1034.25) scale(0.9868,1)" font-size="29.38">0</text>
<text transform="translate(510.04,1034.25) scale(0.9868,1)" font-size="29.38">0</text><text transform="translate(527.08,1034.15) scale(0.9329,1)" font-size="31.89">.</text><text transform="translate(536.62,1034.25) scale(0.9341,1)" font-size="29.29">5</text>
<text transform="translate(645.50,1034.15) scale(0.9502,1)" font-size="29.14">1</text><text transform="translate(662.30,1034.15) scale(0.9329,1)" font-size="31.89">.</text><text transform="translate(671.50,1034.25) scale(0.9868,1)" font-size="29.38">0</text>
<circle cx="322.24" cy="691.00" r="4.85" fill="#ff8c00"/>
<circle cx="330.44" cy="711.20" r="4.85" fill="#ff8c00"/>
<circle cx="338.63" cy="743.20" r="4.85" fill="#ff8c00"/>
<circle cx="346.83" cy="775.70" r="4.85" fill="#ff8c00"/>
<circle cx="355.02" cy="821.90" r="4.85" fill="#ff8c00"/>
<circle cx="363.22" cy="862.90" r="4.85" fill="#ff8c00"/>
<circle cx="371.41" cy="889.20" r="4.85" fill="#ff8c00"/>
<circle cx="379.61" cy="930.10" r="4.85" fill="#ff8c00"/>
<circle cx="387.80" cy="939.60" r="4.85" fill="#ff8c00"/>
<circle cx="391.90" cy="944.90" r="4.85" fill="#ff8c00"/>
<circle cx="396.00" cy="943.50" r="4.85" fill="#ff8c00"/>
<circle cx="400.10" cy="946.20" r="4.85" fill="#ff8c00"/>
<circle cx="404.20" cy="922.70" r="4.85" fill="#ff8c00"/>
<circle cx="412.39" cy="937.80" r="4.85" fill="#ff8c00"/>
<circle cx="420.59" cy="927.80" r="4.85" fill="#ff8c00"/>
<circle cx="428.78" cy="912.80" r="4.85" fill="#ff8c00"/>
<circle cx="436.98" cy="909.10" r="4.85" fill="#ff8c00"/>
<circle cx="445.17" cy="893.10" r="4.85" fill="#ff8c00"/>
<circle cx="453.37" cy="885.20" r="4.85" fill="#ff8c00"/>
<circle cx="461.56" cy="880.50" r="4.85" fill="#ff8c00"/>
<circle cx="469.76" cy="871.40" r="4.85" fill="#ff8c00"/>
<rect x="432.30" y="639.55" width="234.3" height="75.7" rx="3" ry="3" fill="#fff" stroke="#000" stroke-width="3.5"/>
<path d="M439.60,658.35H490.40" stroke="#4a4a4a" stroke-width="3.8"/>
<circle cx="465.20" cy="692.95" r="12" fill="#ff8c00"/>
<text transform="translate(506.61,666.85) scale(0.9981,1)" font-size="25.22" style="stroke-width:0.1px">I</text><text transform="translate(514.08,666.85) scale(1.0359,1)" font-size="24.77" style="stroke-width:0.1px">n</text><text transform="translate(528.86,666.65) scale(1.2454,1)" font-size="25.54" style="stroke-width:0.1px">t</text><text transform="translate(538.26,666.94) scale(1.0305,1)" font-size="24.95" style="stroke-width:0.1px">e</text><text transform="translate(552.81,666.85) scale(1.2310,1)" font-size="24.77" style="stroke-width:0.1px">r</text><text transform="translate(562.96,666.71) scale(1.0554,1)" font-size="24.53" style="stroke-width:0.1px">p</text><text transform="translate(577.82,666.94) scale(1.0143,1)" font-size="24.95" style="stroke-width:0.1px">o</text><text transform="translate(592.73,666.85) scale(0.9749,1)" font-size="24.95" style="stroke-width:0.1px">l</text><text transform="translate(599.26,666.94) scale(0.8579,1)" font-size="24.95" style="stroke-width:0.1px">a</text><text transform="translate(613.49,666.65) scale(1.2454,1)" font-size="25.54" style="stroke-width:0.1px">t</text><text transform="translate(623.28,666.85) scale(0.9749,1)" font-size="24.95" style="stroke-width:0.1px">i</text><text transform="translate(629.52,666.94) scale(1.0143,1)" font-size="24.95" style="stroke-width:0.1px">o</text><text transform="translate(644.29,666.85) scale(1.0359,1)" font-size="24.77" style="stroke-width:0.1px">n</text>
<text transform="translate(507.21,701.14) scale(0.8345,1)" font-size="25.42" style="stroke-width:0.1px">S</text><text transform="translate(522.32,701.05) scale(0.9749,1)" font-size="24.95" style="stroke-width:0.1px">i</text><text transform="translate(528.68,701.05) scale(1.0947,1)" font-size="24.77" style="stroke-width:0.1px">m</text><text transform="translate(551.86,701.14) scale(1.0103,1)" font-size="25.40" style="stroke-width:0.1px">u</text><text transform="translate(567.19,701.05) scale(0.9749,1)" font-size="24.95" style="stroke-width:0.1px">l</text><text transform="translate(573.72,701.14) scale(0.8579,1)" font-size="24.95" style="stroke-width:0.1px">a</text><text transform="translate(587.94,700.85) scale(1.2454,1)" font-size="25.54" style="stroke-width:0.1px">t</text><text transform="translate(597.73,701.05) scale(0.9749,1)" font-size="24.95" style="stroke-width:0.1px">i</text><text transform="translate(603.98,701.14) scale(1.0143,1)" font-size="24.95" style="stroke-width:0.1px">o</text><text transform="translate(618.75,701.05) scale(1.0359,1)" font-size="24.77" style="stroke-width:0.1px">n</text>
<text transform="translate(206.13,604.45) scale(0.9214,1)" font-size="40.68" font-style="italic">C</text><path d="M218.10,570.75 C218.60,568.15 220.40,567.35 222.50,568.75 S226.50,571.75 227.70,567.85" fill="none" stroke="#000" stroke-width="2.4" stroke-linecap="round"/><text transform="translate(233.33,610.20) scale(1.0354,1)" font-size="26.97" font-style="italic">u</text><text transform="translate(249.63,610.18) scale(0.9227,1)" font-size="27.82" font-style="italic">G</text>
<rect x="275.00" y="587.25" width="23.4" height="2.85"/><rect x="275.00" y="594.45" width="23.4" height="2.9"/>
<text transform="translate(303.04,604.49) scale(0.9868,1)" font-size="40.27">0</text><text transform="translate(326.40,604.35) scale(0.9329,1)" font-size="43.73">.</text><text transform="translate(339.01,604.49) scale(0.9868,1)" font-size="40.27">0</text>
<text transform="translate(395.23,604.45) scale(0.9214,1)" font-size="40.68" font-style="italic">C</text><path d="M407.20,570.75 C407.70,568.15 409.50,567.35 411.60,568.75 S415.60,571.75 416.80,567.85" fill="none" stroke="#000" stroke-width="2.4" stroke-linecap="round"/><text transform="translate(422.43,610.20) scale(1.0354,1)" font-size="26.97" font-style="italic">u</text><text transform="translate(438.77,610.05) scale(1.0674,1)" font-size="27.47" font-style="italic">Z</text>
<rect x="461.50" y="587.25" width="23.4" height="2.85"/><rect x="461.50" y="594.45" width="23.4" height="2.9"/>
<text transform="translate(489.54,604.49) scale(0.9868,1)" font-size="40.27">0</text><text transform="translate(512.90,604.35) scale(0.9329,1)" font-size="43.73">.</text><text transform="translate(525.51,604.49) scale(0.9868,1)" font-size="40.27">0</text>
<text transform="translate(359.08,1089.65) scale(0.9214,1)" font-size="40.68" font-style="italic">C</text><path d="M371.05,1055.95 C371.55,1053.35 373.35,1052.55 375.45,1053.95 S379.45,1056.95 380.65,1053.05" fill="none" stroke="#000" stroke-width="2.4" stroke-linecap="round"/><text transform="translate(386.28,1095.40) scale(1.0354,1)" font-size="26.97" font-style="italic">u</text><text transform="translate(402.25,1095.25) scale(0.9683,1)" font-size="27.47" font-style="italic">W</text>
<g transform="translate(28.1,910.15) rotate(-90) translate(0,0)"><text transform="translate(1.80,0.00) scale(0.9289,1)" font-size="39.32" font-style="italic">A</text><text transform="translate(28.15,-2.52) scale(0.8311,1)" font-size="35.85">(</text><text transform="translate(42.12,0.00) scale(0.9373,1)" font-size="39.81">2</text><text transform="translate(65.02,0.11) scale(0.8856,1)" font-size="39.57" font-style="italic">ℓ</text><text transform="translate(82.82,-2.52) scale(0.8416,1)" font-size="35.85">)</text><text transform="translate(107.17,0.00) scale(0.9749,1)" font-size="39.32">i</text><text transform="translate(117.34,0.00) scale(1.0359,1)" font-size="39.03">n</text><text transform="translate(153.00,0.29) scale(0.9500,1)" font-size="40.54">%</text></g>
<path d="M125.55,1192.00V1565.80M260.77,1192.00V1565.80M396.00,1192.00V1565.80M531.23,1192.00V1565.80M666.45,1192.00V1565.80" stroke="#000" stroke-opacity="0.105" stroke-width="1.7" fill="none"/>
<path d="M112.03,1565.80H679.97M112.03,1503.50H679.97M112.03,1441.20H679.97M112.03,1378.90H679.97M112.03,1316.60H679.97M112.03,1254.30H679.97M112.03,1192.00H679.97" stroke="#000" stroke-opacity="0.105" stroke-width="1.7" fill="none"/>
<path d="M111.90,1225.77 L112.87,1225.89 L113.85,1226.01 L114.82,1226.13 L115.80,1226.26 L116.77,1226.39 L117.75,1226.52 L118.73,1226.66 L119.70,1226.80 L120.68,1226.94 L121.66,1227.09 L122.63,1227.23 L123.61,1227.38 L124.59,1227.54 L125.57,1227.69 L126.55,1227.85 L127.53,1228.02 L128.51,1228.18 L129.48,1228.35 L130.46,1228.52 L131.44,1228.70 L132.42,1228.87 L133.40,1229.05 L134.38,1229.24 L135.36,1229.42 L136.34,1229.61 L137.32,1229.81 L138.30,1230.00 L139.28,1230.20 L140.26,1230.40 L141.23,1230.61 L142.21,1230.81 L143.19,1231.02 L144.17,1231.24 L145.15,1231.46 L146.12,1231.68 L147.10,1231.90 L148.08,1232.13 L149.05,1232.35 L150.03,1232.59 L151.01,1232.82 L151.98,1233.06 L152.95,1233.30 L153.93,1233.55 L154.90,1233.80 L155.87,1234.05 L156.85,1234.30 L157.82,1234.56 L158.79,1234.82 L159.76,1235.09 L160.73,1235.35 L161.70,1235.62 L162.67,1235.90 L163.63,1236.18 L164.60,1236.46 L165.57,1236.74 L166.53,1237.03 L167.49,1237.32 L168.46,1237.61 L169.42,1237.91 L170.38,1238.21 L171.34,1238.51 L172.30,1238.82 L173.26,1239.13 L174.21,1239.44 L175.17,1239.76 L176.13,1240.08 L177.08,1240.40 L178.03,1240.73 L178.98,1241.06 L179.93,1241.39 L180.88,1241.73 L181.83,1242.07 L182.78,1242.41 L183.72,1242.76 L184.66,1243.11 L185.61,1243.46 L186.55,1243.82 L187.49,1244.18 L188.42,1244.55 L189.36,1244.91 L190.29,1245.28 L191.23,1245.66 L192.16,1246.04 L193.09,1246.42 L194.02,1246.80 L194.95,1247.19 L195.87,1247.58 L196.79,1247.98 L197.72,1248.38 L198.64,1248.78 L199.56,1249.19 L200.47,1249.60 L201.39,1250.01 L202.30,1250.43 L203.21,1250.85 L204.12,1251.27 L205.03,1251.70 L205.93,1252.13 L206.84,1252.56 L207.74,1253.00 L208.64,1253.44 L209.53,1253.89 L210.43,1254.34 L211.32,1254.79 L212.21,1255.25 L213.10,1255.71 L213.99,1256.17 L214.87,1256.64 L215.76,1257.11 L216.64,1257.58 L217.51,1258.06 L218.39,1258.54 L219.26,1259.03 L220.13,1259.52 L221.00,1260.01 L221.87,1260.51 L222.73,1261.01 L223.59,1261.51 L224.45,1262.02 L225.30,1262.53 L226.16,1263.05 L227.01,1263.57 L227.86,1264.09 L228.70,1264.62 L229.55,1265.15 L230.39,1265.68 L231.22,1266.22 L232.06,1266.76 L232.89,1267.31 L233.72,1267.86 L234.55,1268.41 L235.37,1268.97 L236.19,1269.53 L237.01,1270.10 L237.82,1270.67 L238.64,1271.24 L239.44,1271.82 L240.25,1272.40 L241.05,1272.98 L241.85,1273.57 L242.65,1274.16 L243.45,1274.76 L244.24,1275.36 L245.02,1275.97 L245.81,1276.57 L246.59,1277.19 L247.37,1277.80 L248.14,1278.42 L248.91,1279.05 L249.68,1279.67 L250.45,1280.31 L251.21,1280.94 L251.97,1281.58 L252.72,1282.23 L253.47,1282.88 L254.22,1283.53 L254.97,1284.18 L255.71,1284.84 L256.45,1285.51 L257.18,1286.18 L257.91,1286.85 L258.64,1287.53 L259.36,1288.21 L260.08,1288.89 L260.80,1289.58 L261.51,1290.27 L262.22,1290.97 L262.92,1291.67 L263.62,1292.37 L264.32,1293.08 L265.02,1293.79 L265.71,1294.51 L266.40,1295.23 L267.08,1295.95 L267.76,1296.68 L268.44,1297.41 L269.12,1298.14 L269.79,1298.87 L270.46,1299.61 L271.12,1300.36 L271.79,1301.10 L272.45,1301.85 L273.10,1302.61 L273.75,1303.36 L274.40,1304.12 L275.05,1304.88 L275.69,1305.65 L276.33,1306.42 L276.97,1307.19 L277.61,1307.96 L278.24,1308.74 L278.87,1309.52 L279.49,1310.30 L280.11,1311.09 L280.73,1311.88 L281.35,1312.67 L281.96,1313.46 L282.58,1314.26 L283.18,1315.06 L283.79,1315.86 L284.39,1316.66 L284.99,1317.47 L285.59,1318.28 L286.19,1319.09 L286.78,1319.90 L287.37,1320.71 L287.96,1321.53 L288.54,1322.35 L289.12,1323.17 L289.70,1324.00 L290.28,1324.82 L290.85,1325.65 L291.42,1326.48 L291.99,1327.31 L292.56,1328.14 L293.13,1328.98 L293.69,1329.82 L294.25,1330.66 L294.81,1331.50 L295.36,1332.34 L295.91,1333.18 L296.46,1334.03 L297.01,1334.87 L297.56,1335.72 L298.10,1336.57 L298.65,1337.42 L299.19,1338.27 L299.72,1339.13 L300.26,1339.98 L300.79,1340.84 L301.32,1341.70 L301.85,1342.56 L302.38,1343.42 L302.91,1344.28 L303.43,1345.14 L303.95,1346.00 L304.47,1346.86 L304.99,1347.73 L305.50,1348.59 L306.02,1349.46 L306.53,1350.33 L307.04,1351.19 L307.55,1352.06 L308.05,1352.93 L308.56,1353.80 L309.06,1354.67 L309.56,1355.54 L310.06,1356.41 L310.56,1357.28 L311.06,1358.16 L311.55,1359.03 L312.05,1359.90 L312.54,1360.77 L313.03,1361.65 L313.52,1362.52 L314.01,1363.39 L314.49,1364.26 L314.98,1365.14 L315.46,1366.01 L315.94,1366.89 L316.42,1367.76 L316.90,1368.63 L317.38,1369.51 L317.85,1370.38 L318.33,1371.26 L318.80,1372.13 L319.27,1373.01 L319.74,1373.88 L320.21,1374.76 L320.68,1375.64 L321.15,1376.51 L321.61,1377.39 L322.07,1378.27 L322.54,1379.14 L323.00,1380.02 L323.46,1380.90 L323.92,1381.78 L324.38,1382.66 L324.83,1383.54 L325.29,1384.41 L325.74,1385.29 L326.19,1386.17 L326.65,1387.05 L327.10,1387.94 L327.55,1388.82 L327.99,1389.70 L328.44,1390.58 L328.89,1391.46 L329.33,1392.35 L329.78,1393.23 L330.22,1394.11 L330.66,1395.00 L331.10,1395.88 L331.54,1396.77 L331.98,1397.65 L332.42,1398.54 L332.86,1399.43 L333.29,1400.31 L333.73,1401.20 L334.16,1402.09 L334.60,1402.98 L335.03,1403.87 L335.46,1404.76 L335.89,1405.65 L336.32,1406.54 L336.75,1407.43 L337.18,1408.32 L337.61,1409.22 L338.03,1410.11 L338.46,1411.00 L338.88,1411.90 L339.31,1412.79 L339.73,1413.69 L340.15,1414.59 L340.58,1415.48 L341.00,1416.38 L341.42,1417.28 L341.84,1418.18 L342.26,1419.08 L342.67,1419.98 L343.09,1420.88 L343.51,1421.78 L343.93,1422.69 L344.34,1423.59 L344.76,1424.50 L345.17,1425.40 L345.59,1426.31 L346.00,1427.21 L346.41,1428.12 L346.83,1429.03 L347.24,1429.94 L347.65,1430.85 L348.06,1431.76 L348.47,1432.67 L348.88,1433.58 L349.29,1434.50 L349.70,1435.41 L350.11,1436.32 L350.52,1437.24 L350.92,1438.16 L351.33,1439.08 L351.74,1439.99 L352.14,1440.91 L352.55,1441.83 L352.96,1442.75 L353.36,1443.68 L353.77,1444.60 L354.17,1445.52 L354.58,1446.45 L354.98,1447.37 L355.39,1448.30 L355.79,1449.23 L356.19,1450.16 L356.60,1451.09 L357.00,1452.02 L357.40,1452.95 L357.81,1453.88 L358.21,1454.82 L358.61,1455.75 L359.01,1456.69 L359.41,1457.63 L359.82,1458.56 L360.22,1459.50 L360.62,1460.44 L361.03,1461.38 L361.43,1462.32 L361.84,1463.26 L362.25,1464.20 L362.66,1465.14 L363.07,1466.08 L363.49,1467.01 L363.91,1467.94 L364.33,1468.88 L364.76,1469.81 L365.19,1470.73 L365.62,1471.66 L366.06,1472.58 L366.51,1473.50 L366.96,1474.41 L367.41,1475.33 L367.88,1476.23 L368.35,1477.14 L368.82,1478.04 L369.30,1478.93 L369.79,1479.82 L370.29,1480.70 L370.80,1481.58 L371.31,1482.45 L371.84,1483.32 L372.37,1484.18 L372.91,1485.03 L373.46,1485.88 L374.02,1486.72 L374.59,1487.55 L375.17,1488.38 L375.77,1489.19 L376.37,1490.00 L376.99,1490.80 L377.62,1491.59 L378.26,1492.37 L378.91,1493.15 L379.57,1493.91 L380.25,1494.66 L380.94,1495.41 L381.64,1496.13 L382.36,1496.84 L383.08,1497.54 L383.82,1498.22 L384.56,1498.87 L385.32,1499.50 L386.08,1500.11 L386.85,1500.70 L387.63,1501.26 L388.42,1501.78 L389.21,1502.28 L390.01,1502.75 L390.81,1503.18 L391.62,1503.57 L392.44,1503.93 L393.26,1504.25 L394.08,1504.53 L394.91,1504.77 L395.74,1504.96 L396.57,1505.11 L397.40,1505.21 L398.24,1505.26 L399.07,1505.26 L399.91,1505.20 L400.74,1505.10 L401.58,1504.94 L402.41,1504.72 L403.24,1504.45 L404.07,1504.13 L404.89,1503.77 L405.71,1503.36 L406.53,1502.91 L407.33,1502.41 L408.14,1501.88 L408.93,1501.32 L409.72,1500.72 L410.49,1500.08 L411.26,1499.42 L412.02,1498.73 L412.77,1498.02 L413.50,1497.29 L414.22,1496.53 L414.93,1495.76 L415.62,1494.97 L416.30,1494.17 L416.97,1493.36 L417.61,1492.54 L418.25,1491.70 L418.86,1490.86 L419.47,1490.01 L420.06,1489.16 L420.64,1488.29 L421.20,1487.42 L421.76,1486.54 L422.30,1485.65 L422.83,1484.76 L423.35,1483.86 L423.87,1482.96 L424.37,1482.05 L424.86,1481.14 L425.35,1480.22 L425.83,1479.30 L426.30,1478.38 L426.76,1477.45 L427.22,1476.52 L427.68,1475.59 L428.12,1474.66 L428.57,1473.72 L429.01,1472.79 L429.45,1471.86 L429.88,1470.92 L430.31,1469.99 L430.74,1469.06 L431.17,1468.12 L431.60,1467.20 L432.03,1466.27 L432.45,1465.34 L432.88,1464.42 L433.30,1463.49 L433.73,1462.57 L434.15,1461.65 L434.57,1460.73 L434.99,1459.81 L435.41,1458.89 L435.83,1457.98 L436.25,1457.06 L436.67,1456.15 L437.08,1455.23 L437.50,1454.32 L437.92,1453.41 L438.33,1452.50 L438.74,1451.59 L439.16,1450.68 L439.57,1449.78 L439.98,1448.87 L440.40,1447.96 L440.81,1447.06 L441.22,1446.15 L441.63,1445.25 L442.04,1444.35 L442.45,1443.44 L442.86,1442.54 L443.26,1441.64 L443.67,1440.74 L444.08,1439.84 L444.49,1438.94 L444.89,1438.04 L445.30,1437.14 L445.71,1436.24 L446.11,1435.34 L446.52,1434.44 L446.92,1433.54 L447.33,1432.64 L447.73,1431.74 L448.14,1430.84 L448.54,1429.94 L448.95,1429.04 L449.35,1428.15 L449.76,1427.25 L450.16,1426.35 L450.56,1425.45 L450.97,1424.55 L451.37,1423.65 L451.78,1422.75 L452.18,1421.85 L452.58,1420.94 L452.99,1420.04 L453.39,1419.14 L453.80,1418.24 L454.20,1417.33 L454.60,1416.43 L455.01,1415.53 L455.41,1414.62 L455.82,1413.72 L456.22,1412.81 L456.63,1411.90 L457.03,1411.00 L457.44,1410.09 L457.85,1409.19 L458.25,1408.28 L458.66,1407.37 L459.07,1406.46 L459.48,1405.56 L459.89,1404.65 L460.30,1403.74 L460.71,1402.83 L461.12,1401.92 L461.53,1401.02 L461.94,1400.11 L462.35,1399.20 L462.76,1398.29 L463.18,1397.38 L463.59,1396.48 L464.01,1395.57 L464.43,1394.66 L464.84,1393.75 L465.26,1392.85 L465.68,1391.94 L466.10,1391.03 L466.52,1390.12 L466.94,1389.22 L467.37,1388.31 L467.79,1387.41 L468.22,1386.50 L468.64,1385.60 L469.07,1384.69 L469.50,1383.79 L469.93,1382.88 L470.36,1381.98 L470.79,1381.08 L471.23,1380.17 L471.66,1379.27 L472.10,1378.37 L472.54,1377.47 L472.97,1376.57 L473.42,1375.67 L473.86,1374.77 L474.30,1373.87 L474.75,1372.97 L475.19,1372.08 L475.64,1371.18 L476.09,1370.29 L476.54,1369.39 L477.00,1368.50 L477.45,1367.61 L477.91,1366.71 L478.37,1365.82 L478.83,1364.93 L479.29,1364.04 L479.75,1363.16 L480.22,1362.27 L480.69,1361.38 L481.16,1360.50 L481.63,1359.61 L482.10,1358.73 L482.58,1357.85 L483.06,1356.97 L483.54,1356.09 L484.02,1355.21 L484.50,1354.33 L484.99,1353.46 L485.48,1352.58 L485.97,1351.71 L486.46,1350.84 L486.96,1349.97 L487.45,1349.10 L487.95,1348.23 L488.46,1347.36 L488.96,1346.50 L489.47,1345.64 L489.98,1344.77 L490.49,1343.91 L491.01,1343.06 L491.52,1342.20 L492.04,1341.34 L492.56,1340.49 L493.09,1339.64 L493.62,1338.78 L494.15,1337.94 L494.68,1337.09 L495.22,1336.24 L495.76,1335.40 L496.30,1334.56 L496.84,1333.72 L497.39,1332.88 L497.94,1332.04 L498.49,1331.21 L499.05,1330.37 L499.61,1329.54 L500.17,1328.71 L500.73,1327.89 L501.30,1327.06 L501.87,1326.24 L502.45,1325.42 L503.03,1324.60 L503.61,1323.78 L504.19,1322.97 L504.78,1322.16 L505.37,1321.35 L505.96,1320.54 L506.55,1319.73 L507.15,1318.93 L507.75,1318.13 L508.36,1317.33 L508.97,1316.53 L509.58,1315.74 L510.19,1314.95 L510.81,1314.16 L511.43,1313.37 L512.05,1312.59 L512.68,1311.81 L513.31,1311.03 L513.94,1310.25 L514.58,1309.48 L515.22,1308.71 L515.86,1307.94 L516.50,1307.17 L517.15,1306.41 L517.80,1305.65 L518.46,1304.90 L519.11,1304.14 L519.77,1303.39 L520.44,1302.64 L521.10,1301.90 L521.77,1301.15 L522.44,1300.41 L523.12,1299.68 L523.80,1298.94 L524.48,1298.21 L525.16,1297.49 L525.85,1296.76 L526.54,1296.04 L527.24,1295.32 L527.93,1294.61 L528.63,1293.90 L529.34,1293.19 L530.04,1292.49 L530.75,1291.78 L531.46,1291.09 L532.18,1290.39 L532.90,1289.70 L533.62,1289.01 L534.34,1288.33 L535.07,1287.65 L535.80,1286.97 L536.54,1286.30 L537.27,1285.63 L538.01,1284.96 L538.75,1284.30 L539.50,1283.64 L540.25,1282.98 L541.00,1282.33 L541.76,1281.68 L542.51,1281.04 L543.28,1280.40 L544.04,1279.76 L544.81,1279.13 L545.58,1278.50 L546.35,1277.88 L547.13,1277.25 L547.91,1276.64 L548.69,1276.03 L549.48,1275.42 L550.26,1274.81 L551.06,1274.21 L551.85,1273.62 L552.65,1273.02 L553.45,1272.44 L554.25,1271.85 L555.06,1271.27 L555.87,1270.70 L556.68,1270.13 L557.50,1269.56 L558.32,1269.00 L559.14,1268.44 L559.97,1267.89 L560.80,1267.34 L561.63,1266.79 L562.46,1266.25 L563.30,1265.72 L564.14,1265.19 L564.98,1264.66 L565.83,1264.14 L566.68,1263.62 L567.53,1263.11 L568.39,1262.60 L569.25,1262.10 L570.11,1261.60 L570.97,1261.10 L571.84,1260.61 L572.71,1260.12 L573.58,1259.64 L574.45,1259.16 L575.33,1258.69 L576.21,1258.22 L577.09,1257.75 L577.97,1257.29 L578.86,1256.83 L579.75,1256.37 L580.64,1255.92 L581.54,1255.48 L582.43,1255.04 L583.33,1254.60 L584.23,1254.16 L585.13,1253.73 L586.04,1253.30 L586.95,1252.88 L587.86,1252.46 L588.77,1252.05 L589.68,1251.63 L590.60,1251.23 L591.51,1250.82 L592.43,1250.42 L593.35,1250.02 L594.28,1249.63 L595.20,1249.24 L596.13,1248.85 L597.06,1248.47 L597.99,1248.08 L598.92,1247.71 L599.85,1247.33 L600.79,1246.96 L601.72,1246.60 L602.66,1246.23 L603.60,1245.87 L604.54,1245.52 L605.49,1245.16 L606.43,1244.81 L607.38,1244.46 L608.32,1244.12 L609.27,1243.78 L610.22,1243.44 L611.17,1243.10 L612.12,1242.77 L613.07,1242.44 L614.03,1242.11 L614.98,1241.79 L615.94,1241.47 L616.90,1241.15 L617.85,1240.83 L618.81,1240.52 L619.77,1240.21 L620.73,1239.90 L621.70,1239.60 L622.66,1239.30 L623.62,1239.00 L624.59,1238.70 L625.55,1238.41 L626.52,1238.11 L627.48,1237.82 L628.45,1237.54 L629.42,1237.25 L630.38,1236.97 L631.35,1236.69 L632.32,1236.41 L633.29,1236.14 L634.26,1235.87 L635.23,1235.60 L636.20,1235.33 L637.17,1235.06 L638.14,1234.80 L639.11,1234.54 L640.09,1234.28 L641.06,1234.02 L642.03,1233.77 L643.00,1233.51 L643.97,1233.26 L644.94,1233.01 L645.92,1232.77 L646.89,1232.52 L647.86,1232.28 L648.83,1232.03 L649.80,1231.79 L650.77,1231.56 L651.74,1231.32 L652.71,1231.09 L653.68,1230.85 L654.65,1230.62 L655.62,1230.39 L656.59,1230.16 L657.56,1229.94 L658.53,1229.71 L659.50,1229.49 L660.47,1229.27 L661.43,1229.05 L662.40,1228.83 L663.36,1228.61 L664.33,1228.40 L665.29,1228.18 L666.26,1227.97 L667.22,1227.76 L668.18,1227.55 L669.14,1227.34 L670.10,1227.13 L671.06,1226.92 L672.02,1226.71 L672.98,1226.51 L673.93,1226.31 L674.89,1226.10 L675.84,1225.90 L676.79,1225.70 L677.75,1225.50 L678.70,1225.30 L679.65,1225.10" stroke="#4a4a4a" stroke-width="3.5" fill="none" stroke-linejoin="round"/>
<path d="M112.05,1190.20V1567.60" stroke="#000" stroke-width="3.4" fill="none"/>
<path d="M110.35,1565.80H681.6" stroke="#000" stroke-width="3.6" fill="none"/>
<path d="M112,1565.80H124M112,1503.50H124M112,1441.20H124M112,1378.90H124M112,1316.60H124M112,1254.30H124M112,1192.00H124M125.55,1565.80V1554.00M260.77,1565.80V1554.00M396.00,1565.80V1554.00M531.23,1565.80V1554.00M666.45,1565.80V1554.00" stroke="#000" stroke-width="2.9" fill="none"/>
<text transform="translate(57.25,1576.10) scale(0.9868,1)" font-size="29.38">0</text><text transform="translate(74.29,1576.00) scale(0.9329,1)" font-size="31.89">.</text><text transform="translate(83.83,1576.10) scale(0.9341,1)" font-size="29.29">5</text>
<text transform="translate(57.48,1513.70) scale(0.9502,1)" font-size="29.14">1</text><text transform="translate(74.29,1513.70) scale(0.9329,1)" font-size="31.89">.</text><text transform="translate(83.48,1513.80) scale(0.9868,1)" font-size="29.38">0</text>
<text transform="translate(57.48,1451.40) scale(0.9502,1)" font-size="29.14">1</text><text transform="translate(74.29,1451.40) scale(0.9329,1)" font-size="31.89">.</text><text transform="translate(83.83,1451.50) scale(0.9341,1)" font-size="29.29">5</text>
<text transform="translate(57.17,1389.10) scale(0.9559,1)" font-size="29.23">2</text><text transform="translate(74.29,1389.10) scale(0.9329,1)" font-size="31.89">.</text><text transform="translate(83.48,1389.20) scale(0.9868,1)" font-size="29.38">0</text>
<text transform="translate(57.17,1326.80) scale(0.9559,1)" font-size="29.23">2</text><text transform="translate(74.29,1326.80) scale(0.9329,1)" font-size="31.89">.</text><text transform="translate(83.83,1326.90) scale(0.9341,1)" font-size="29.29">5</text>
<text transform="translate(57.60,1264.60) scale(0.9477,1)" font-size="29.38">3</text><text transform="translate(74.29,1264.50) scale(0.9329,1)" font-size="31.89">.</text><text transform="translate(83.48,1264.60) scale(0.9868,1)" font-size="29.38">0</text>
<text transform="translate(57.60,1202.30) scale(0.9477,1)" font-size="29.38">3</text><text transform="translate(74.29,1202.20) scale(0.9329,1)" font-size="31.89">.</text><text transform="translate(83.83,1202.30) scale(0.9341,1)" font-size="29.29">5</text>
<text transform="translate(98.75,1598.55) scale(1.0517,1)" font-size="28.19">-</text><text transform="translate(109.56,1598.60) scale(0.9502,1)" font-size="29.14">1</text><text transform="translate(126.36,1598.60) scale(0.9329,1)" font-size="31.89">.</text><text transform="translate(135.56,1598.70) scale(0.9868,1)" font-size="29.38">0</text>
<text transform="translate(233.97,1598.55) scale(1.0517,1)" font-size="28.19">-</text><text transform="translate(244.55,1598.70) scale(0.9868,1)" font-size="29.38">0</text><text transform="translate(261.59,1598.60) scale(0.9329,1)" font-size="31.89">.</text><text transform="translate(271.13,1598.70) scale(0.9341,1)" font-size="29.29">5</text>
<text transform="translate(374.81,1598.70) scale(0.9868,1)" font-size="29.38">0</text><text transform="translate(391.85,1598.60) scale(0.9329,1)" font-size="31.89">.</text><text transform="translate(401.05,1598.70) scale(0.9868,1)" font-size="29.38">0</text>
<text transform="translate(510.04,1598.70) scale(0.9868,1)" font-size="29.38">0</text><text transform="translate(527.08,1598.60) scale(0.9329,1)" font-size="31.89">.</text><text transform="translate(536.62,1598.70) scale(0.9341,1)" font-size="29.29">5</text>
<text transform="translate(645.50,1598.60) scale(0.9502,1)" font-size="29.14">1</text><text transform="translate(662.30,1598.60) scale(0.9329,1)" font-size="31.89">.</text><text transform="translate(671.50,1598.70) scale(0.9868,1)" font-size="29.38">0</text>
<circle cx="322.24" cy="1377.00" r="4.85" fill="#ff8c00"/>
<circle cx="330.44" cy="1393.50" r="4.85" fill="#ff8c00"/>
<circle cx="338.63" cy="1419.70" r="4.85" fill="#ff8c00"/>
<circle cx="346.83" cy="1434.60" r="4.85" fill="#ff8c00"/>
<circle cx="355.02" cy="1455.90" r="4.85" fill="#ff8c00"/>
<circle cx="363.22" cy="1464.70" r="4.85" fill="#ff8c00"/>
<circle cx="371.41" cy="1477.10" r="4.85" fill="#ff8c00"/>
<circle cx="379.61" cy="1493.30" r="4.85" fill="#ff8c00"/>
<circle cx="387.80" cy="1505.50" r="4.85" fill="#ff8c00"/>
<circle cx="391.90" cy="1507.90" r="4.85" fill="#ff8c00"/>
<circle cx="396.00" cy="1509.00" r="4.85" fill="#ff8c00"/>
<circle cx="400.10" cy="1502.00" r="4.85" fill="#ff8c00"/>
<circle cx="404.20" cy="1497.50" r="4.85" fill="#ff8c00"/>
<circle cx="412.39" cy="1502.10" r="4.85" fill="#ff8c00"/>
<circle cx="420.59" cy="1494.50" r="4.85" fill="#ff8c00"/>
<circle cx="428.78" cy="1479.40" r="4.85" fill="#ff8c00"/>
<circle cx="436.98" cy="1453.50" r="4.85" fill="#ff8c00"/>
<circle cx="445.17" cy="1443.50" r="4.85" fill="#ff8c00"/>
<circle cx="453.37" cy="1424.80" r="4.85" fill="#ff8c00"/>
<circle cx="461.56" cy="1417.20" r="4.85" fill="#ff8c00"/>
<circle cx="469.76" cy="1381.10" r="4.85" fill="#ff8c00"/>
<rect x="278.40" y="1204.00" width="234.3" height="75.7" rx="3" ry="3" fill="#fff" stroke="#000" stroke-width="3.5"/>
<path d="M285.70,1222.80H336.50" stroke="#4a4a4a" stroke-width="3.8"/>
<circle cx="311.30" cy="1257.40" r="12" fill="#ff8c00"/>
<text transform="translate(352.71,1231.30) scale(0.9981,1)" font-size="25.22" style="stroke-width:0.1px">I</text><text transform="translate(360.18,1231.30) scale(1.0359,1)" font-size="24.77" style="stroke-width:0.1px">n</text><text transform="translate(374.96,1231.10) scale(1.2454,1)" font-size="25.54" style="stroke-width:0.1px">t</text><text transform="translate(384.36,1231.39) scale(1.0305,1)" font-size="24.95" style="stroke-width:0.1px">e</text><text transform="translate(398.91,1231.30) scale(1.2310,1)" font-size="24.77" style="stroke-width:0.1px">r</text><text transform="translate(409.06,1231.16) scale(1.0554,1)" font-size="24.53" style="stroke-width:0.1px">p</text><text transform="translate(423.92,1231.39) scale(1.0143,1)" font-size="24.95" style="stroke-width:0.1px">o</text><text transform="translate(438.83,1231.30) scale(0.9749,1)" font-size="24.95" style="stroke-width:0.1px">l</text><text transform="translate(445.36,1231.39) scale(0.8579,1)" font-size="24.95" style="stroke-width:0.1px">a</text><text transform="translate(459.59,1231.10) scale(1.2454,1)" font-size="25.54" style="stroke-width:0.1px">t</text><text transform="translate(469.38,1231.30) scale(0.9749,1)" font-size="24.95" style="stroke-width:0.1px">i</text><text transform="translate(475.62,1231.39) scale(1.0143,1)" font-size="24.95" style="stroke-width:0.1px">o</text><text transform="translate(490.39,1231.30) scale(1.0359,1)" font-size="24.77" style="stroke-width:0.1px">n</text>
<text transform="translate(353.31,1265.59) scale(0.8345,1)" font-size="25.42" style="stroke-width:0.1px">S</text><text transform="translate(368.42,1265.50) scale(0.9749,1)" font-size="24.95" style="stroke-width:0.1px">i</text><text transform="translate(374.78,1265.50) scale(1.0947,1)" font-size="24.77" style="stroke-width:0.1px">m</text><text transform="translate(397.96,1265.59) scale(1.0103,1)" font-size="25.40" style="stroke-width:0.1px">u</text><text transform="translate(413.29,1265.50) scale(0.9749,1)" font-size="24.95" style="stroke-width:0.1px">l</text><text transform="translate(419.82,1265.59) scale(0.8579,1)" font-size="24.95" style="stroke-width:0.1px">a</text><text transform="translate(434.04,1265.30) scale(1.2454,1)" font-size="25.54" style="stroke-width:0.1px">t</text><text transform="translate(443.83,1265.50) scale(0.9749,1)" font-size="24.95" style="stroke-width:0.1px">i</text><text transform="translate(450.08,1265.59) scale(1.0143,1)" font-size="24.95" style="stroke-width:0.1px">o</text><text transform="translate(464.85,1265.50) scale(1.0359,1)" font-size="24.77" style="stroke-width:0.1px">n</text>
<text transform="translate(202.93,1168.90) scale(0.9214,1)" font-size="40.68" font-style="italic">C</text><path d="M214.90,1135.20 C215.40,1132.60 217.20,1131.80 219.30,1133.20 S223.30,1136.20 224.50,1132.30" fill="none" stroke="#000" stroke-width="2.4" stroke-linecap="round"/><text transform="translate(230.13,1174.65) scale(1.0354,1)" font-size="26.97" font-style="italic">u</text><text transform="translate(246.43,1174.63) scale(0.9227,1)" font-size="27.82" font-style="italic">G</text>
<rect x="271.80" y="1151.70" width="23.4" height="2.85"/><rect x="271.80" y="1158.90" width="23.4" height="2.9"/>
<text transform="translate(299.84,1168.94) scale(0.9868,1)" font-size="40.27">0</text><text transform="translate(323.20,1168.80) scale(0.9329,1)" font-size="43.73">.</text><text transform="translate(335.81,1168.94) scale(0.9868,1)" font-size="40.27">0</text>
<text transform="translate(391.83,1168.90) scale(0.9214,1)" font-size="40.68" font-style="italic">C</text><path d="M403.80,1135.20 C404.30,1132.60 406.10,1131.80 408.20,1133.20 S412.20,1136.20 413.40,1132.30" fill="none" stroke="#000" stroke-width="2.4" stroke-linecap="round"/><text transform="translate(419.03,1174.65) scale(1.0354,1)" font-size="26.97" font-style="italic">u</text><text transform="translate(435.00,1174.50) scale(0.9683,1)" font-size="27.47" font-style="italic">W</text>
<rect x="465.60" y="1151.70" width="23.4" height="2.85"/><rect x="465.60" y="1158.90" width="23.4" height="2.9"/>
<text transform="translate(493.64,1168.94) scale(0.9868,1)" font-size="40.27">0</text><text transform="translate(517.00,1168.80) scale(0.9329,1)" font-size="43.73">.</text><text transform="translate(529.61,1168.94) scale(0.9868,1)" font-size="40.27">0</text>
<text transform="translate(363.13,1654.10) scale(0.9214,1)" font-size="40.68" font-style="italic">C</text><path d="M375.10,1620.40 C375.60,1617.80 377.40,1617.00 379.50,1618.40 S383.50,1621.40 384.70,1617.50" fill="none" stroke="#000" stroke-width="2.4" stroke-linecap="round"/><text transform="translate(390.33,1659.85) scale(1.0354,1)" font-size="26.97" font-style="italic">u</text><text transform="translate(406.67,1659.70) scale(1.0674,1)" font-size="27.47" font-style="italic">Z</text>
<g transform="translate(28.1,1474.60) rotate(-90) translate(0,0)"><text transform="translate(1.80,0.00) scale(0.9289,1)" font-size="39.32" font-style="italic">A</text><text transform="translate(28.15,-2.52) scale(0.8311,1)" font-size="35.85">(</text><text transform="translate(42.12,0.00) scale(0.9373,1)" font-size="39.81">2</text><text transform="translate(65.02,0.11) scale(0.8856,1)" font-size="39.57" font-style="italic">ℓ</text><text transform="translate(82.82,-2.52) scale(0.8416,1)" font-size="35.85">)</text><text transform="translate(107.17,0.00) scale(0.9749,1)" font-size="39.32">i</text><text transform="translate(117.34,0.00) scale(1.0359,1)" font-size="39.03">n</text><text transform="translate(153.00,0.29) scale(0.9500,1)" font-size="40.54">%</text></g>
</svg></body></html>
